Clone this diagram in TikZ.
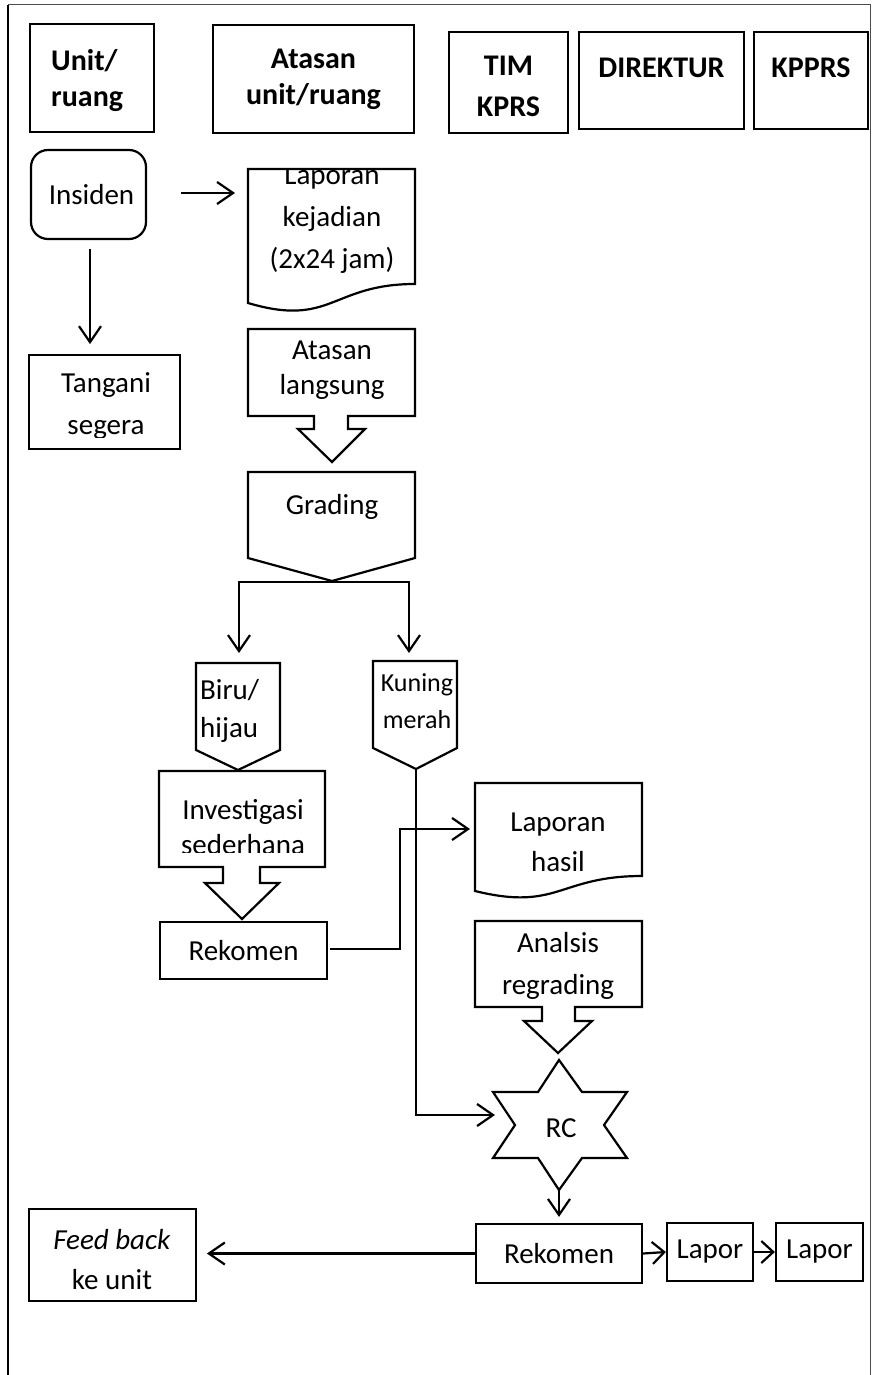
\documentclass[tikz,border=0pt]{standalone}
\usepackage{fontspec}
\setmainfont{Carlito}
\usetikzlibrary{arrows.meta}
\newcommand\dgfont{\fontsize{29}{40}\selectfont}
\newcommand\dghead{\fontsize{30}{36}\selectfont\bfseries}
\begin{document}
\begin{tikzpicture}[x=1pt,y=-1pt,
  ln/.style={draw, line width=2.2pt, line join=miter},
  box/.style={draw, line width=2.2pt, rectangle, inner sep=0pt, align=center, font=\dgfont},
  head/.style={box, font=\dghead},
  txt/.style={inner sep=0pt, align=center, font=\dgfont},
  conn/.style={line width=2.2pt, -{Straight Barb[length=16pt,width=22pt]}},
  sconn/.style={line width=2.2pt, -{Straight Barb[length=12pt,width=22pt]}}
]
\useasboundingbox (0,0) rectangle (872,1375);
% outer frame
\draw[line width=2.2pt] (8,1375) -- (8,5);
\draw[line width=1pt, black!70] (8,5) -- (870,5) -- (870,1375);

% header row
\node[box, minimum width=124, minimum height=108] (hunit) at (92,78) {};
\node[txt, font=\dghead, align=left, anchor=west] (hunitt) at (51,81) {Unit/\\ruang};
\node[head, minimum width=201, minimum height=108] (hatasan) at (313.5,79) {Atasan\\unit/ruang};
\node[box, minimum width=119, minimum height=101] (htim) at (508.5,82.5) {};
\node[txt, font=\fontsize{30}{41}\selectfont\bfseries] (htimt) at (508.5,86) {TIM\\KPRS};
\node[box, minimum width=165, minimum height=97] (hdir) at (661.5,80.5) {};
\node[txt, font=\dghead] (hdirt) at (661.5,68) {DIREKTUR};
\node[box, minimum width=114, minimum height=97] (hkp) at (811,80.5) {};
\node[txt, font=\dghead] (hkpt) at (811,68) {KPPRS};

% Insiden
\node[box, rounded corners=17pt, minimum width=115, minimum height=89] (ins) at (88.5,194.5) {\hspace*{6pt}Insiden};

% Laporan kejadian (document)
\draw[ln] (248,169) -- (415,169) -- (415,284)
  .. controls (331.5,284) and (331.5,327.8) .. (248,303) -- cycle;
\begin{scope}
  \clip (248,169) rectangle (415,330);
  \node[txt, font=\fontsize{29}{42}\selectfont] (lap1) at (332,220) {Laporan\\kejadian\\(2x24 jam)};
\end{scope}
\coordinate (lap1in) at (235,193);

% Tangani segera
\node[box, minimum width=151, minimum height=94] (tan) at (104.5,402) {};
\begin{scope}
  \clip (29,355) rectangle (180,437);
  \node[txt, font=\fontsize{29}{42}\selectfont] (tant) at (106,406) {Tangani\\segera};
\end{scope}

% Atasan langsung (down arrow callout)
\draw[ln] (248,329) -- (415,329) -- (415,416) -- (348,416) -- (348,429) -- (365,429)
  -- (332,462) -- (298,429) -- (314,429) -- (314,416) -- (248,416) -- cycle;
\node[txt, font=\fontsize{29}{35}\selectfont] (atl) at (332,370) {Atasan\\langsung};

% Grading
\draw[ln] (248,472) -- (415,472) -- (415,558) -- (332,581) -- (248,558) -- cycle;
\node[txt] (grd) at (332,507) {Grading};
\coordinate (gtip) at (332,582);

% Biru / hijau
\draw[ln] (196,663) -- (280,663) -- (280,750) -- (238,770) -- (196,750) -- cycle;
\node[txt, align=left, anchor=west, font=\fontsize{29}{38}\selectfont] (biru) at (200,711) {Biru/\\hijau};
\coordinate (biruin) at (239,653);

% Kuning merah
\draw[ln] (373,661) -- (457,661) -- (457,748) -- (416,769) -- (373,748) -- cycle;
\node[txt, font=\fontsize{26}{37}\selectfont] (kun) at (417,701) {Kuning\\merah};
\coordinate (kunin) at (409,653);
\coordinate (ktip) at (416,769);

% Investigasi sederhana
\draw[ln] (159,771) -- (325,771) -- (325,867) -- (260,867) -- (260,883) -- (279,883)
  -- (242,919) -- (205,883) -- (223,883) -- (223,867) -- (159,867) -- cycle;
\begin{scope}
  \clip (159,771) rectangle (325,852);
  \node[txt, font=\fontsize{29}{35}\selectfont] (inv) at (243,827) {Investigasi\\sederhana};
\end{scope}

% Rekomen 1
\node[box, minimum width=167, minimum height=57] (rek1) at (243.5,950.5) {Rekomen};

% Laporan hasil (document)
\draw[ln] (475,783) -- (642,783) -- (642,876)
  .. controls (558.5,876) and (558.5,911.5) .. (475,891) -- cycle;
\node[txt, font=\fontsize{29}{40}\selectfont] (lap2) at (558,842) {Laporan\\hasil};
\coordinate (lap2in) at (470,829);

% Analsis regrading
\draw[ln] (475,921) -- (642,921) -- (642,1007) -- (575,1007) -- (575,1021) -- (592,1021)
  -- (558,1053) -- (524,1021) -- (542,1021) -- (542,1007) -- (475,1007) -- cycle;
\node[txt, font=\fontsize{29}{42}\selectfont] (ana) at (558,966) {Analsis\\regrading};

% RC star
\draw[ln] (559,1060) -- (582,1092) -- (627,1092) -- (604,1125) -- (627,1158) -- (582,1158)
  -- (559,1190) -- (538,1158) -- (493,1158) -- (515,1125) -- (493,1092) -- (538,1092) -- cycle;
\node[txt] (rc) at (561,1128) {RC};
\coordinate (rcin) at (495,1115);
\coordinate (rcout) at (559,1190);

% bottom row
\node[box, minimum width=166, minimum height=59] (rek2) at (559,1253.5) {Rekomen};
\node[box, minimum width=86, minimum height=58] (lp1) at (710,1252) {Lapor};
\node[box, minimum width=87, minimum height=58] (lp2) at (819.5,1252) {Lapor};
\node[box, minimum width=167, minimum height=92] (fb) at (112.5,1255) {};
\node[txt, font=\fontsize{29}{40}\selectfont] (fbt) at (112,1260) {\textit{Feed back}\\ke unit};

% connectors
\draw[conn] (ins.east |- lap1in) ++(34,0) -- (lap1in);
\draw[conn] (ins.south) ++(1.5,9) -- ++(0,95);
\draw[conn] (gtip) -| (biruin);
\draw[conn] (gtip) -| (kunin);
\draw[conn] (ktip) |- (rcin);
\draw[conn] (rek1.east) ++(2,-1.5) -| (400,829) -- (lap2in);
\draw[conn, shorten >=6pt] (rcout) -- (rek2.north);
\draw[conn] (rek2.west) -- ++(-268,0);
\draw[sconn] (rek2.east) -- (lp1.west);
\draw[sconn] (lp1.east) -- (lp2.west);
\end{tikzpicture}
\end{document}
